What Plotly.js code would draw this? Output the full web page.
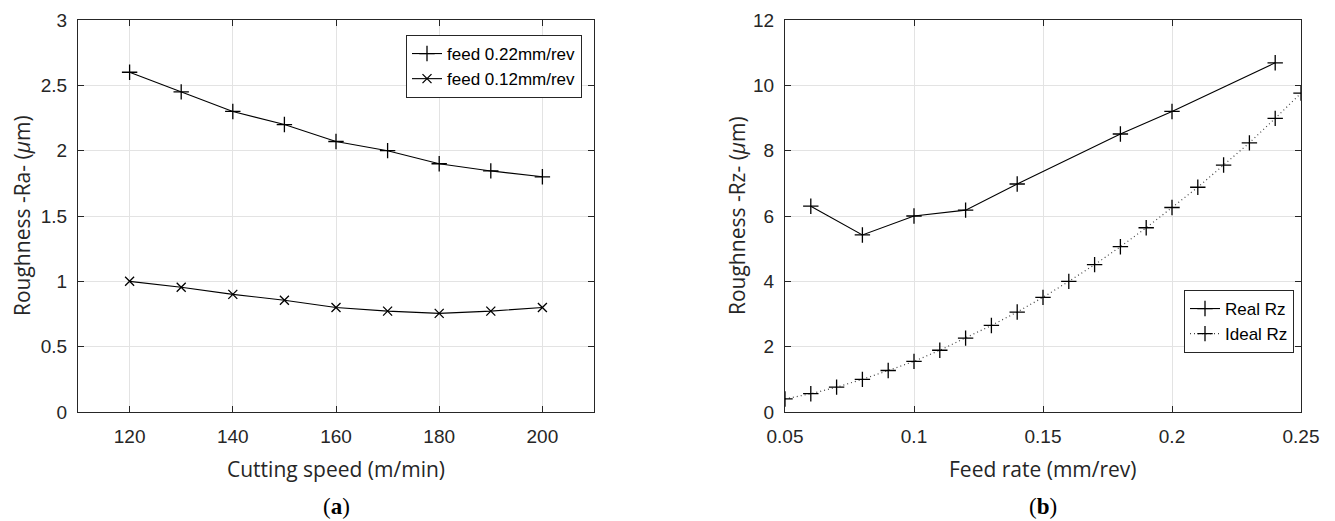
<!DOCTYPE html>
<html>
<head>
<meta charset="utf-8">
<script src="https://cdn.plot.ly/plotly-3.0.1.min.js"></script>
<style>html,body{margin:0;padding:0;background:#fff;}#chart{width:1335px;height:521px;}</style>
</head>
<body>
<div id="chart"></div>
<script>
// ---- Data (a) ----
const cuttingSpeed = [120, 130, 140, 150, 160, 170, 180, 190, 200];
const raFeed022 = [2.60, 2.45, 2.30, 2.20, 2.07, 2.00, 1.90, 1.845, 1.80];
const raFeed012 = [1.00, 0.955, 0.90, 0.855, 0.80, 0.772, 0.755, 0.772, 0.80];
const seriesNamesA = ["feed 0.22mm/rev", "feed 0.12mm/rev"];

// ---- Data (b) ----
const feedReal = [0.06, 0.08, 0.10, 0.12, 0.14, 0.18, 0.20, 0.24];
const rzReal = [6.30, 5.42, 6.00, 6.18, 6.98, 8.51, 9.20, 10.69];
const feedIdeal = [0.05, 0.06, 0.07, 0.08, 0.09, 0.10, 0.11, 0.12, 0.13, 0.14, 0.15, 0.16, 0.17, 0.18, 0.19, 0.20, 0.21, 0.22, 0.23, 0.24, 0.25];
const rzIdeal = [0.40, 0.56, 0.76, 1.00, 1.27, 1.55, 1.89, 2.26, 2.65, 3.06, 3.51, 4.00, 4.51, 5.06, 5.64, 6.26, 6.88, 7.56, 8.24, 8.99, 9.76];
const seriesNamesB = ["Real Rz", "Ideal Rz"];

// ---- Tick labels ----
const xTicksA = [120, 140, 160, 180, 200];
const yTicksA = [0, 0.5, 1, 1.5, 2, 2.5, 3];
const yTickTextA = ["0", "0.5", "1", "1.5", "2", "2.5", "3"];
const xTicksB = [0.05, 0.1, 0.15, 0.2, 0.25];
const xTickTextB = ["0.05", "0.1", "0.15", "0.2", "0.25"];
const yTicksB = [0, 2, 4, 6, 8, 10, 12];

const W = 1335;
const axCol = '#262626';
const gridCol = '#e3e3e3';
const tickFont = {family: 'Liberation Sans, Arial, sans-serif', size: 19, color: axCol};
const titleFont = {family: 'Open Sans, Noto Sans, sans-serif', size: 21, color: axCol};
const legendFont = {family: 'Liberation Sans, Arial, sans-serif', size: 17, color: '#000'};

const traces = [
  {x: cuttingSpeed, y: raFeed022, name: seriesNamesA[0], type: 'scatter', mode: 'lines+markers',
   line: {color: '#000', width: 1.1}, marker: {symbol: 'cross-thin-open', size: 11, color: '#000', line: {color: '#000', width: 1.3}},
   xaxis: 'x', yaxis: 'y', legend: 'legend'},
  {x: cuttingSpeed, y: raFeed012, name: seriesNamesA[1], type: 'scatter', mode: 'lines+markers',
   line: {color: '#000', width: 1.1}, marker: {symbol: 'x-thin-open', size: 9, color: '#000', line: {color: '#000', width: 1.3}},
   xaxis: 'x', yaxis: 'y', legend: 'legend'},
  {x: feedReal, y: rzReal, name: seriesNamesB[0], type: 'scatter', mode: 'lines+markers',
   line: {color: '#000', width: 1.1}, marker: {symbol: 'cross-thin-open', size: 11, color: '#000', line: {color: '#000', width: 1.3}},
   xaxis: 'x2', yaxis: 'y2', legend: 'legend2'},
  {x: feedIdeal, y: rzIdeal, name: seriesNamesB[1], type: 'scatter', mode: 'lines+markers',
   line: {color: '#444', width: 1.2, dash: '1px,3px'}, marker: {symbol: 'cross-thin-open', size: 11, color: '#000', line: {color: '#000', width: 1.3}},
   xaxis: 'x2', yaxis: 'y2', legend: 'legend2'}
];

function axisBase() {
  return {showline: true, mirror: 'ticks', linecolor: axCol, linewidth: 1,
          ticks: 'inside', ticklen: 6, tickcolor: axCol, tickwidth: 1,
          showgrid: true, gridcolor: gridCol, gridwidth: 1, zeroline: false,
          tickfont: tickFont, fixedrange: true};
}

const layout = {
  width: 1335, height: 521,
  margin: {l: 0, r: 0, t: 20, b: 109},
  paper_bgcolor: '#fff', plot_bgcolor: '#fff',
  showlegend: true,
  xaxis: Object.assign(axisBase(), {domain: [78 / W, 594 / W], range: [110, 210], tickvals: xTicksA, anchor: 'y', ticklabelstandoff: 7}),
  yaxis: Object.assign(axisBase(), {domain: [0, 1], range: [0, 3], tickvals: yTicksA, ticktext: yTickTextA, anchor: 'x', ticklabelstandoff: 6}),
  xaxis2: Object.assign(axisBase(), {domain: [785 / W, 1301 / W], range: [0.05, 0.25], tickvals: xTicksB, ticktext: xTickTextB, anchor: 'y2', ticklabelstandoff: 7}),
  yaxis2: Object.assign(axisBase(), {domain: [0, 1], range: [0, 12], tickvals: yTicksB, anchor: 'x2', ticklabelstandoff: 6}),
  legend: {x: 582 / W, xanchor: 'right', y: (412 - 35) / 392, yanchor: 'top',
           bgcolor: '#fff', bordercolor: axCol, borderwidth: 1,
           font: legendFont, tracegroupgap: 0, itemwidth: 30},
  legend2: {x: 1294 / W, xanchor: 'right', y: (412 - 290) / 392, yanchor: 'top',
           bgcolor: '#fff', bordercolor: axCol, borderwidth: 1,
           font: legendFont, tracegroupgap: 0, itemwidth: 30},
  annotations: [
    {text: 'Cutting speed (m/min)', xref: 'paper', yref: 'paper', x: 336 / W, y: (412 - 469) / 392, xanchor: 'center', yanchor: 'middle', showarrow: false, font: titleFont},
    {text: 'Feed rate (mm/rev)', xref: 'paper', yref: 'paper', x: 1043 / W, y: (412 - 469) / 392, xanchor: 'center', yanchor: 'middle', showarrow: false, font: titleFont},
    {text: 'Roughness -Ra- (<i>μ</i>m)', xref: 'paper', yref: 'paper', x: 22 / W, y: 0.5, xanchor: 'center', yanchor: 'middle', textangle: -90, showarrow: false, font: titleFont},
    {text: 'Roughness -Rz- (<i>μ</i>m)', xref: 'paper', yref: 'paper', x: 737 / W, y: 0.5, xanchor: 'center', yanchor: 'middle', textangle: -90, showarrow: false, font: titleFont},
    {text: '(<b>a</b>)', xref: 'paper', yref: 'paper', x: 336 / W, y: (412 - 506) / 392, xanchor: 'center', yanchor: 'middle', showarrow: false, font: {family: 'Liberation Serif, serif', size: 23, color: '#000'}},
    {text: '(<b>b</b>)', xref: 'paper', yref: 'paper', x: 1043 / W, y: (412 - 506) / 392, xanchor: 'center', yanchor: 'middle', showarrow: false, font: {family: 'Liberation Serif, serif', size: 23, color: '#000'}}
  ]
};

Plotly.newPlot('chart', traces, layout, {displayModeBar: false, staticPlot: true});
</script>
</body>
</html>
